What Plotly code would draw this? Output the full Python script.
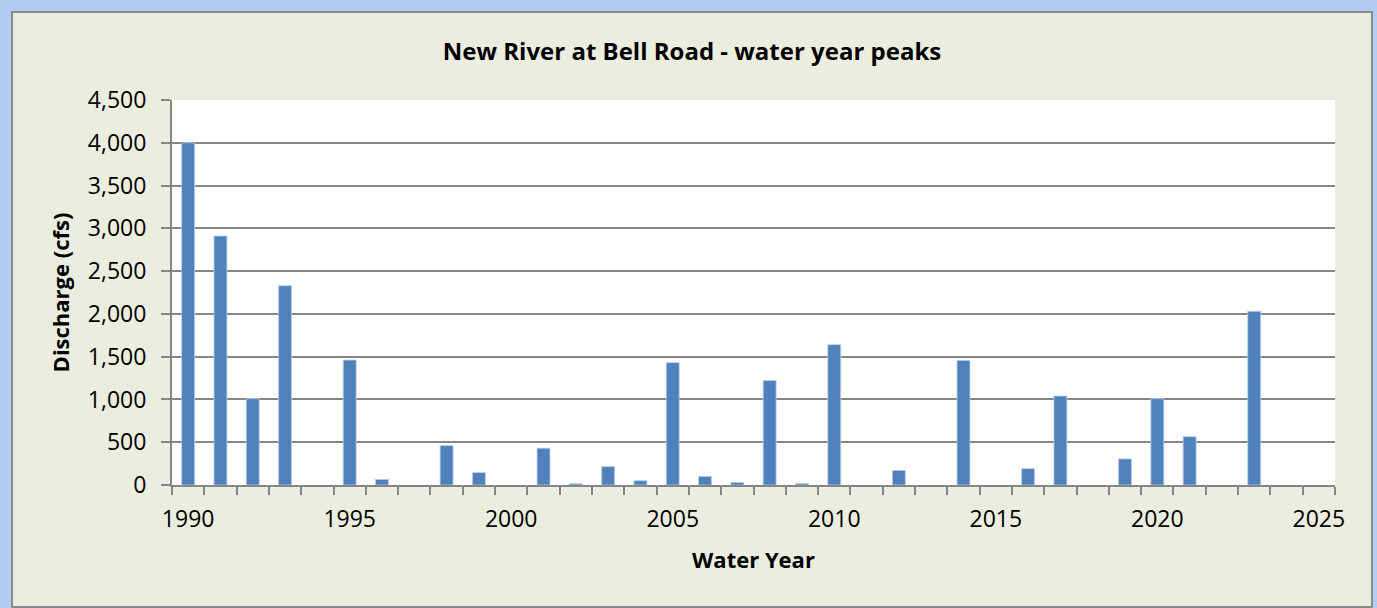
import plotly.graph_objects as go

# ---- data ----
water_years = [1990, 1991, 1992, 1993, 1995, 1996, 1998, 1999, 2001, 2002, 2003, 2004,
               2005, 2006, 2007, 2008, 2009, 2010, 2012, 2014, 2016, 2017, 2019, 2020,
               2021, 2023]
peak_cfs = [4000, 2910, 1010, 2330, 1460, 65, 460, 145, 430, 15, 215, 50,
            1430, 100, 30, 1220, 18, 1640, 170, 1455, 190, 1040, 305, 1010,
            565, 2030]
x_tick_years = [1990, 1995, 2000, 2005, 2010, 2015, 2020, 2025]
title_text = "New River at Bell Road - water year peaks"
x_title = "Water Year"
y_title = "Discharge (cfs)"

W, H = 1377, 608
ML, MR, MT, MB = 172, 42, 100, 123
PW, PH = W - ML - MR, H - MT - MB

def px_to_paper_x(px):
    return (px - ML) / PW

def px_to_paper_y(py):
    return (H - MB - py) / PH

FONT = "Open Sans"
GRID = "#868686"

fig = go.Figure()
fig.add_trace(go.Bar(
    x=water_years, y=peak_cfs, width=0.4,
    marker=dict(color="#4F81BD", line=dict(color="#B9CDE5", width=0.8)),
    hovertemplate="%{x}: %{y:,}<extra></extra>",
))

fig.update_layout(
    width=W, height=H,
    margin=dict(l=ML, r=MR, t=MT, b=MB, autoexpand=False),
    paper_bgcolor="#B4CCF0",
    plot_bgcolor="white",
    showlegend=False,
    font=dict(family=FONT, color="black", size=23),
    title=dict(text="<b>" + title_text + "</b>", x=692 / W, xanchor="center",
               xref="container", y=1 - 52 / H, yanchor="middle",
               font=dict(family=FONT, size=24, color="black")),
    bargap=0.6,
    shapes=[
        dict(type="rect", xref="paper", yref="paper", layer="below",
             x0=px_to_paper_x(12), x1=px_to_paper_x(1372),
             y0=px_to_paper_y(607), y1=px_to_paper_y(12),
             fillcolor="#EBEEDF", line=dict(color="#8C8C8C", width=2)),
        dict(type="rect", xref="paper", yref="paper", layer="below",
             x0=0, x1=1, y0=0, y1=1,
             fillcolor="white", line=dict(width=0)),
    ],
)

fig.update_xaxes(
    range=[1989.5, 2025.5],
    tickmode="array", tickvals=x_tick_years, ticktext=[str(v) for v in x_tick_years],
    ticks="", showgrid=False, zeroline=False,
    showline=True, linecolor=GRID, linewidth=2,
    tickfont=dict(family=FONT, size=23),
    ticklabelstandoff=12,
    minor=dict(ticks="outside", tickmode="linear", tick0=1989.5, dtick=1,
               ticklen=8, tickwidth=2, tickcolor=GRID, showgrid=False),
    title=dict(text="<b>" + x_title + "</b>", font=dict(family=FONT, size=22), standoff=20),
    fixedrange=True,
)
fig.update_yaxes(
    range=[0, 4500], tickmode="linear", tick0=0, dtick=500, tickformat=",",
    ticks="outside", ticklen=9, tickwidth=2, tickcolor=GRID,
    showgrid=True, gridcolor=GRID, gridwidth=2, zeroline=False,
    showline=True, linecolor=GRID, linewidth=2,
    tickfont=dict(family=FONT, size=23),
    ticklabelstandoff=10,
    title=dict(text="<b>" + y_title + "</b>", font=dict(family=FONT, size=22), standoff=12),
    fixedrange=True,
)

fig.write_html("out.html", config={"displayModeBar": False},
               post_script="document.body.style.margin='0';document.body.style.overflow='hidden';")
